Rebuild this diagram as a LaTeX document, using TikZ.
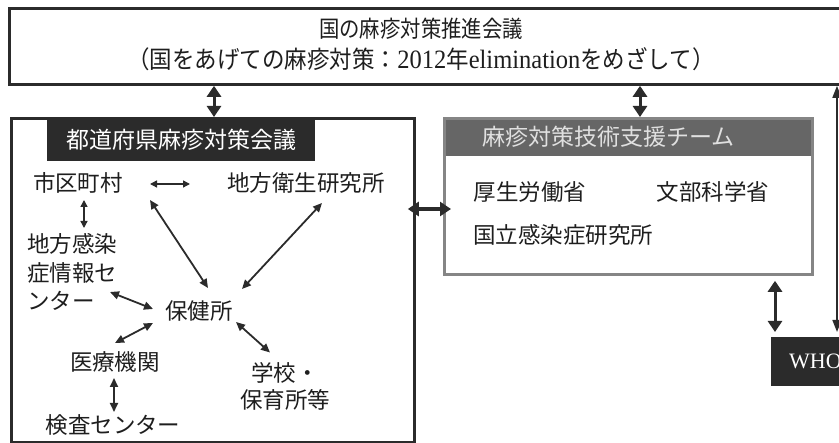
\documentclass[tikz,border=0pt]{standalone}
\usepackage{fontspec}
\setmainfont{Noto Sans CJK JP}
\newfontfamily\latfont{Liberation Serif}
\usetikzlibrary{arrows.meta,calc}
\definecolor{barblack}{HTML}{2B2B2B}
\definecolor{teamgray}{HTML}{666666}
\definecolor{teamborder}{HTML}{858585}
\definecolor{inkc}{HTML}{1E1E1E}
\begin{document}
\begin{tikzpicture}[x=1pt,y=-1pt,
  outerbox/.style={draw=barblack, line width=2.8pt, inner sep=0pt, anchor=north west},
  lbl/.style={font=\fontsize{22.5}{28.5}\selectfont, inner sep=0pt, text=inkc},
  bigarrow/.style={draw=barblack, line width=3pt, {Triangle[width=14pt,length=11pt]}-{Triangle[width=14pt,length=11pt]}},
  midarrow/.style={draw=barblack, line width=1.8pt, {Triangle[width=8pt,length=9pt]}-{Triangle[width=8pt,length=9pt]}},
  thinarrow/.style={draw=barblack, line width=1.4pt, {Triangle[width=7pt,length=7pt]}-{Triangle[width=7pt,length=7pt]}},
  longarrow/.style={draw=barblack, line width=1.6pt, {Triangle[width=9pt,length=12pt]}-{Triangle[width=9pt,length=12pt]}}
]
\path[use as bounding box, clip] (0,0) rectangle (839,443);

% top box
\node[outerbox, minimum width=845pt, minimum height=76pt] (top) at (8,7) {};
\node[lbl, font=\fontsize{21}{24}\selectfont] (t1) at (421,29) {\scalebox{0.97}[1.1]{国の麻疹対策推進会議}};
\node[lbl, font=\fontsize{22.5}{24}\selectfont] (t2) at (421,59)
  {\scalebox{1}[1.08]{（国をあげての麻疹対策：{\latfont\fontsize{24.5}{24}\selectfont 2012}年{\latfont\fontsize{24.5}{24}\selectfont elimination}をめざして）}};

% prefectural box
\node[outerbox, minimum width=403pt, minimum height=324pt] (pref) at (10,117) {};
\node[fill=barblack, anchor=north west, minimum width=268pt, minimum height=42pt, inner sep=0pt,
      text=white, font=\fontsize{23}{26}\selectfont] (prefhead) at (47,118.5) {都道府県麻疹対策会議};

\node[lbl] (sk) at (78,183) {市区町村};
\node[lbl] (eiken) at (306,183) {地方衛生研究所};
\node[lbl, align=left, anchor=west] (kansen) at (27,272) {地方感染\\症情報セ\\ンター};
\node[lbl] (hoken) at (199,311) {保健所};
\node[lbl] (iryo) at (115,362) {医療機関};
\node[lbl] (kensa) at (113,425) {検査センター};
\node[lbl, align=center, font=\fontsize{22.5}{27}\selectfont] (gakko) at (285,386.5) {学校・\\保育所等};

\draw[thinarrow] ($(sk)+(72,1)$) -- ($(eiken)+(-116,1)$);
\draw[thinarrow] ($(sk)+(6,17)$) -- ($(kansen.west)+(57,-44)$);
\draw[midarrow] ($(hoken)+(9,-23)$) -- ($(sk)+(72,17)$);
\draw[midarrow] ($(hoken)+(43,-22)$) -- ($(eiken)+(16,20)$);
\draw[midarrow] ($(kansen.west)+(83,20)$) -- ($(hoken)+(-46,-2)$);
\draw[midarrow] ($(hoken)+(-46,12)$) -- ($(iryo)+(0,-19)$);
\draw[midarrow] ($(hoken)+(37,11)$) -- ($(gakko)+(-15,-34)$);
\draw[midarrow] ($(iryo)+(-1,16)$) -- ($(kensa)+(1,-13)$);

% technical support team
\node[fill=teamgray, anchor=north west, minimum width=368pt, minimum height=39pt, inner sep=0pt] (teamhead) at (443,117) {};
\node[lbl, anchor=west, text=white!88!black, font=\fontsize{23}{26}\selectfont] (teamtitle) at (482,137) {麻疹対策技術支援チーム};
\node[draw=teamborder, line width=2.8pt, minimum width=368pt, minimum height=156pt, inner sep=0pt, anchor=north west] (team) at (443,117) {};
\node[lbl] (mhlw) at (530,192) {厚生労働省};
\node[lbl] (mext) at (713,192) {文部科学省};
\node[lbl, anchor=west] (niid) at (473,235) {国立感染症研究所};

% WHO
\node[fill=barblack, anchor=north west, minimum height=49pt, inner xsep=18pt, inner ysep=0pt,
      text width=60pt, align=left, text=white, font=\latfont\fontsize{22}{24}\selectfont] (who) at (771,337) {WHO};

% connectors
\coordinate (ax1) at (214,100);
\coordinate (ax2) at (640,100);
\coordinate (ax3) at (775,300);
\coordinate (ax4) at (837,200);
\coordinate (ay1) at (430,209);
\draw[bigarrow] (top.south -| ax1) -- (pref.north -| ax1);
\draw[bigarrow] (top.south -| ax2) -- (team.north -| ax2);
\draw[bigarrow, line width=3.5pt, shorten <=-8pt, shorten >=-8pt] (pref.east |- ay1) -- (team.west |- ay1);
\draw[bigarrow, shorten <=5pt, shorten >=5pt] (team.south -| ax3) -- (who.north -| ax3);
\draw[longarrow, shorten >=5pt] (top.south -| ax4) -- (who.north -| ax4);
\end{tikzpicture}
\end{document}
